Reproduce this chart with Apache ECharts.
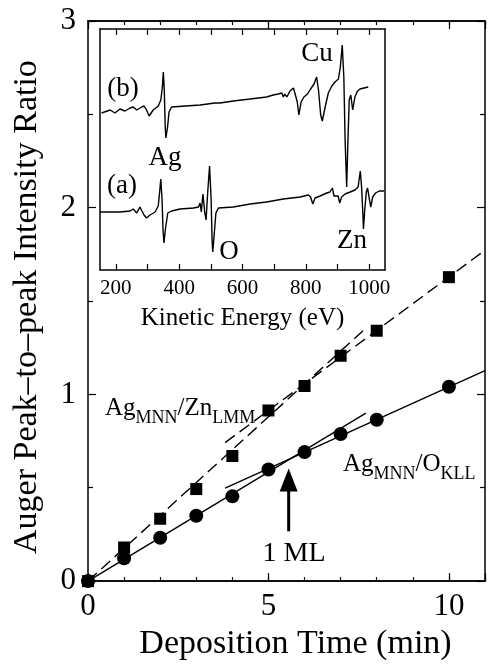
<!DOCTYPE html>
<html>
<head>
<meta charset="utf-8">
<script src="https://cdn.jsdelivr.net/npm/echarts@6/dist/echarts.min.js"></script>
<style>
  html, body { margin: 0; padding: 0; background: #fff; }
  #chart { width: 488px; height: 666px; }
</style>
</head>
<body>
<div id="chart"></div>
<script>
// deposition time (min) and peak-to-peak ratios
var timeZn = [0, 1, 2, 3, 4, 5, 6, 7, 8, 10];
var ratioZn = [0, 0.18, 0.334, 0.493, 0.67, 0.914, 1.045, 1.207, 1.341, 1.628];
var timeO = [0, 1, 2, 3, 4, 5, 6, 7, 8, 10];
var ratioO = [0, 0.122, 0.232, 0.35, 0.454, 0.598, 0.691, 0.788, 0.864, 1.041];

// straight-line fits (end points)
var fitZnLow = [[0, 0], [7.7, 1.355]];
var fitZnHigh = [[3.8, 0.742], [11, 1.772]];
var fitOLow = [[0, 0], [7.7, 0.9]];
var fitOHigh = [[3.8, 0.498], [11, 1.127]];

// 1 ML arrow
var arrowPts = [[5.56, 0.267], [5.56, 0.56]];
var arrowTip = [[5.56, 0.6]];

// inset: Auger spectra, [kinetic energy (eV), dN/dE (arb.)]
var specB = [[155,157],[182,160],[197,157],[213,161],[229,159],[245,162],[255,163],[266,160],[282,163],[289,164],[297,160],[305,154],[318,160],[334,164],[342,170],[347,183],[350,198],[353,180],[356,143],[358,132],[363,142],[368,158],[376,163],[420,164],[466,165],[513,167],[518,165],[529,167],[571,169],[624,171],[676,173],[697,175],[713,176],[724,177],[729,173],[734,176],[740,173],[750,179],[761,182],[767,181],[773,168],[778,155],[785,168],[794,173],[805,176],[815,181],[826,186],[834,193],[840,180],[847,155],[852,149],[861,163],[871,177],[882,184],[892,188],[903,191],[909,203],[915,225],[920,193],[924,130],[929,83],[933,130],[937,170],[942,175],[948,160],[955,173],[963,179],[971,181],[984,182],[997,183]];
var specA = [[150,58],[182,58],[213,58],[245,59],[255,61],[266,57],[276,63],[282,65],[289,55],[297,52],[308,55],[324,58],[334,64],[338,77],[342,91],[346,70],[349,40],[352,27],[357,42],[364,57],[376,59],[403,61],[445,62],[461,63],[466,67],[470,58],[475,76],[481,57],[485,50],[490,77],[496,104],[501,70],[504,30],[506,18],[510,33],[516,57],[524,62],[571,63],[624,66],[676,68],[729,71],[782,73],[808,75],[815,73],[822,66],[829,72],[845,74],[866,77],[876,78],[884,82],[889,74],[895,72],[902,74],[907,67],[913,73],[924,76],[940,78],[955,80],[965,83],[972,99],[976,83],[980,57],[982,41],[986,60],[991,78],[995,82],[1001,70],[1005,63],[1011,73],[1020,77],[1032,79],[1047,79]];

var insetTicks = [200, 300, 400, 500, 600, 700, 800, 900, 1000];
var insetLabels = [200, 400, 600, 800, 1000];

var FONT = '"Liberation Serif", "Times New Roman", Times, "Nimbus Roman", Tinos, FreeSerif, "DejaVu Serif", serif';
var black = '#000';

function zip(xs, ys) {
    return xs.map(function (x, i) { return [x, ys[i]]; });
}
function plain(v) { return String(v); }

var chart = echarts.init(document.getElementById('chart'));

var mainX = {
    gridIndex: 0, type: 'value', min: 0, max: 11,
    axisLine: { onZero: false, lineStyle: { color: black, width: 1.5 } },
    splitLine: { show: false }
};

var option = {
    animation: false,
    backgroundColor: '#fff',
    textStyle: { fontFamily: FONT },
    grid: [
        { left: 88, top: 21, width: 405, height: 566 },
        { left: 100, top: 29, width: 285, height: 241 }
    ],
    xAxis: [
        Object.assign({}, mainX, {
            position: 'bottom', interval: 1,
            axisTick: { inside: true, length: 4, lineStyle: { color: black, width: 1.2 } },
            axisLabel: {
                margin: 10, color: black, fontFamily: FONT, fontSize: 31,
                formatter: function (v) { return (v % 5 === 0 && v <= 10) ? String(v) : ''; }
            },
            name: 'Deposition Time (min)', nameLocation: 'middle', nameGap: 43,
            nameTextStyle: { color: black, fontFamily: FONT, fontSize: 34, padding: [0, 0, 0, 18] }
        }),
        Object.assign({}, mainX, {
            position: 'bottom', interval: 5,
            axisTick: { inside: true, length: 8, lineStyle: { color: black, width: 1.2 } },
            axisLabel: { show: false }
        }),
        Object.assign({}, mainX, {
            position: 'top', interval: 1,
            axisTick: { inside: true, length: 4, lineStyle: { color: black, width: 1.2 } },
            axisLabel: { show: false }
        }),
        Object.assign({}, mainX, {
            position: 'top', interval: 5,
            axisTick: { inside: true, length: 8, lineStyle: { color: black, width: 1.2 } },
            axisLabel: { show: false }
        }),
        {
            gridIndex: 1, type: 'value', min: 150, max: 1050, position: 'bottom',
            axisLine: { onZero: false, lineStyle: { color: black, width: 1.5 } },
            axisTick: { inside: true, length: 6, customValues: insetTicks, lineStyle: { color: black, width: 1.2 } },
            axisLabel: { customValues: insetLabels, formatter: plain, margin: 8, color: black, fontFamily: FONT, fontSize: 21 },
            splitLine: { show: false },
            name: 'Kinetic Energy (eV)', nameLocation: 'middle', nameGap: 36,
            nameTextStyle: { color: black, fontFamily: FONT, fontSize: 25 }
        },
        {
            gridIndex: 1, type: 'value', min: 150, max: 1050, position: 'top',
            axisLine: { onZero: false, lineStyle: { color: black, width: 1.5 } },
            axisTick: { inside: true, length: 6, customValues: insetTicks, lineStyle: { color: black, width: 1.2 } },
            axisLabel: { show: false },
            splitLine: { show: false }
        }
    ],
    yAxis: [
        {
            gridIndex: 0, type: 'value', min: 0, max: 3, interval: 1, position: 'left',
            axisLine: { onZero: false, lineStyle: { color: black, width: 1.5 } },
            axisTick: { inside: true, length: 8, lineStyle: { color: black, width: 1.2 } },
            minorTick: { show: true, splitNumber: 2, length: 5, lineStyle: { color: black, width: 1.2 } },
            axisLabel: { margin: 12, color: black, fontFamily: FONT, fontSize: 31 },
            splitLine: { show: false },
            name: 'Auger Peak\u2013to\u2013peak Intensity Ratio', nameLocation: 'middle', nameGap: 44,
            nameTextStyle: { color: black, fontFamily: FONT, fontSize: 34, padding: [0, 12, 0, 0] }
        },
        {
            gridIndex: 0, type: 'value', min: 0, max: 3, interval: 1, position: 'right',
            axisLine: { onZero: false, lineStyle: { color: black, width: 1.5 } },
            axisTick: { inside: true, length: 8, lineStyle: { color: black, width: 1.2 } },
            minorTick: { show: true, splitNumber: 2, length: 5, lineStyle: { color: black, width: 1.2 } },
            axisLabel: { show: false },
            splitLine: { show: false }
        },
        {
            gridIndex: 1, type: 'value', min: 0, max: 241, position: 'left',
            axisLine: { onZero: false, lineStyle: { color: black, width: 1.5 } },
            axisTick: { show: false }, axisLabel: { show: false }, splitLine: { show: false }
        },
        {
            gridIndex: 1, type: 'value', min: 0, max: 241, position: 'right',
            axisLine: { onZero: false, lineStyle: { color: black, width: 1.5 } },
            axisTick: { show: false }, axisLabel: { show: false }, splitLine: { show: false }
        }
    ],
    series: [
        {
            name: 'fit Zn low', type: 'line', xAxisIndex: 0, yAxisIndex: 0, data: fitZnLow,
            symbol: 'none', lineStyle: { color: black, width: 1.4, type: [12, 6] }
        },
        {
            name: 'fit Zn high', type: 'line', xAxisIndex: 0, yAxisIndex: 0, data: fitZnHigh,
            symbol: 'none', lineStyle: { color: black, width: 1.4, type: [12, 6] }
        },
        {
            name: 'fit O low', type: 'line', xAxisIndex: 0, yAxisIndex: 0, data: fitOLow,
            symbol: 'none', lineStyle: { color: black, width: 1.4 }
        },
        {
            name: 'fit O high', type: 'line', xAxisIndex: 0, yAxisIndex: 0, data: fitOHigh,
            symbol: 'none', lineStyle: { color: black, width: 1.4 }
        },
        {
            name: 'AgMNN/OKLL', type: 'scatter', xAxisIndex: 0, yAxisIndex: 0, data: zip(timeO, ratioO),
            symbol: 'circle', symbolSize: 14, itemStyle: { color: black, opacity: 1 }, z: 5
        },
        {
            name: 'AgMNN/ZnLMM', type: 'scatter', xAxisIndex: 0, yAxisIndex: 0, data: zip(timeZn, ratioZn),
            symbol: 'rect', symbolSize: 12, itemStyle: { color: black, opacity: 1 }, z: 6
        },
        {
            name: 'arrow', type: 'line', xAxisIndex: 0, yAxisIndex: 0, data: arrowPts,
            symbol: 'none', lineStyle: { color: black, width: 3 }
        },
        {
            name: 'arrow head', type: 'scatter', xAxisIndex: 0, yAxisIndex: 0, data: arrowTip,
            symbol: 'triangle', symbolSize: [18, 23], symbolOffset: [0, 11], itemStyle: { color: black, opacity: 1 }
        },
        {
            name: '(a)', type: 'line', xAxisIndex: 4, yAxisIndex: 2, data: specA,
            symbol: 'none', lineStyle: { color: black, width: 1.4 }
        },
        {
            name: '(b)', type: 'line', xAxisIndex: 4, yAxisIndex: 2, data: specB,
            symbol: 'none', lineStyle: { color: black, width: 1.4 }
        }
    ],
    graphic: [
        { type: 'text', left: 105, top: 396, style: {
            text: '{m|Ag}{s|MNN}{m|/Zn}{s|LMM}', fill: black,
            rich: {
                m: { fontFamily: FONT, fontSize: 25, verticalAlign: 'bottom', padding: [0, 0, 6, 0] },
                s: { fontFamily: FONT, fontSize: 18, verticalAlign: 'bottom' }
            }
        } },
        { type: 'text', left: 343, top: 452, style: {
            text: '{m|Ag}{s|MNN}{m|/O}{s|KLL}', fill: black,
            rich: {
                m: { fontFamily: FONT, fontSize: 25, verticalAlign: 'bottom', padding: [0, 0, 6, 0] },
                s: { fontFamily: FONT, fontSize: 18, verticalAlign: 'bottom' }
            }
        } },
        { type: 'text', x: 294, y: 554, style: { text: '1 ML', fill: black, fontFamily: FONT, fontSize: 28, textAlign: 'center', textVerticalAlign: 'middle' } },
        { type: 'text', x: 123, y: 89, style: { text: '(b)', fill: black, fontFamily: FONT, fontSize: 27, textAlign: 'center', textVerticalAlign: 'middle' } },
        { type: 'text', x: 122, y: 186, style: { text: '(a)', fill: black, fontFamily: FONT, fontSize: 27, textAlign: 'center', textVerticalAlign: 'middle' } },
        { type: 'text', x: 317, y: 54, style: { text: 'Cu', fill: black, fontFamily: FONT, fontSize: 27, textAlign: 'center', textVerticalAlign: 'middle' } },
        { type: 'text', x: 165, y: 158, style: { text: 'Ag', fill: black, fontFamily: FONT, fontSize: 27, textAlign: 'center', textVerticalAlign: 'middle' } },
        { type: 'text', x: 229, y: 252, style: { text: 'O', fill: black, fontFamily: FONT, fontSize: 27, textAlign: 'center', textVerticalAlign: 'middle' } },
        { type: 'text', x: 352, y: 241, style: { text: 'Zn', fill: black, fontFamily: FONT, fontSize: 27, textAlign: 'center', textVerticalAlign: 'middle' } }
    ]
};

chart.setOption(option);
</script>
</body>
</html>
